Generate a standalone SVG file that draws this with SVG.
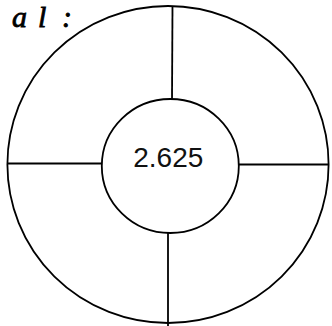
<svg xmlns="http://www.w3.org/2000/svg" width="332" height="326" viewBox="0 0 332 326">
<style>
.ring{fill:none;stroke:#000;stroke-width:1.8}
.conn line{stroke:#000;stroke-width:1.8}
.num{font-family:"Liberation Sans",Arial,sans-serif;font-size:28px;fill:#111;text-anchor:middle}
.title{font-family:"Liberation Serif","Times New Roman",serif;font-style:italic;font-size:30px;fill:#000;stroke:#000;stroke-width:0.8}
</style>
<rect width="332" height="326" fill="#fff"/>
<text class="title" y="27"><tspan x="12 38 62">al:</tspan></text>
<g id="outer">
<ellipse class="ring" cx="168" cy="164.5" rx="160.6" ry="158.5"/>
</g>
<g id="connectors" class="conn">
<line x1="172.5" y1="6.5" x2="172" y2="99"/>
<line x1="168" y1="233" x2="168" y2="326"/>
<line x1="7.5" y1="163.5" x2="102" y2="163.5"/>
<line x1="239" y1="164.5" x2="328.5" y2="164.5"/>
</g>
<g id="center">
<ellipse class="ring" cx="170.3" cy="166" rx="68.5" ry="67"/>
<text class="num" x="168.3" y="166.5">2.625</text>
</g>
</svg>
